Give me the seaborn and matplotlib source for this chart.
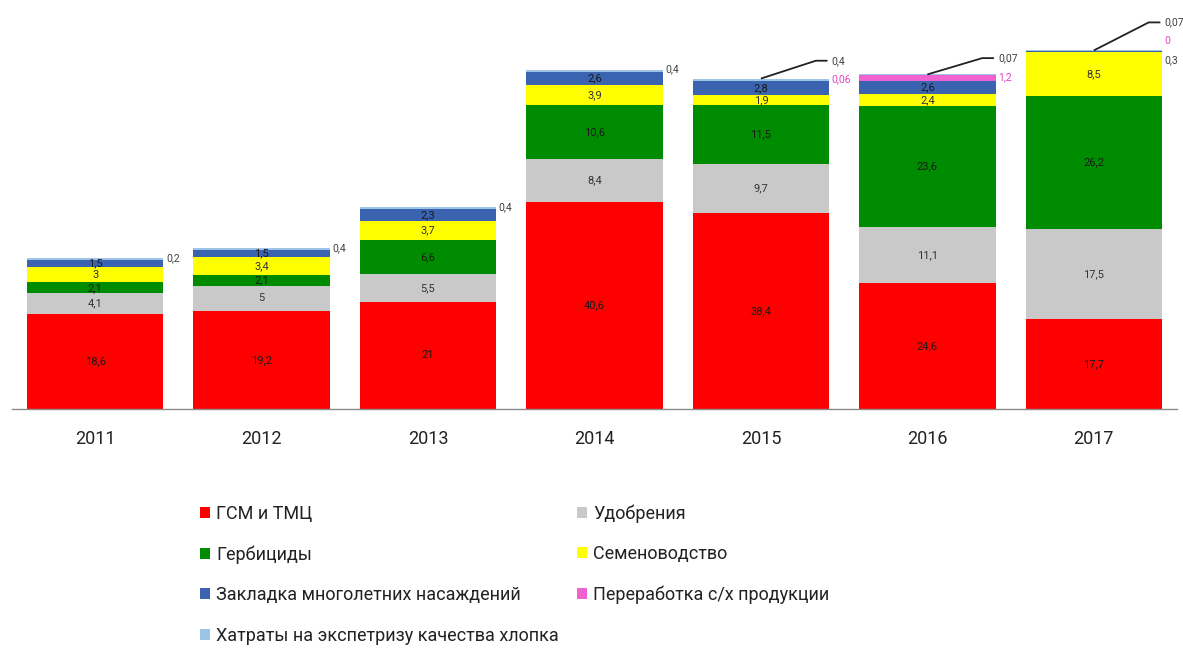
import matplotlib
matplotlib.use("Agg")
import matplotlib.pyplot as plt
from matplotlib.patches import Patch
import pandas as pd
import seaborn as sns

years = ["2011", "2012", "2013", "2014", "2015", "2016", "2017"]
series_names = [
    "ГСМ и ТМЦ",
    "Удобрения",
    "Гербициды",
    "Семеноводство",
    "Закладка многолетних насаждений",
    "Переработка с/х продукции",
    "Хатраты на экспетризу качества хлопка",
]
gsm = [18.6, 19.2, 21, 40.6, 38.4, 24.6, 17.7]
fert = [4.1, 5, 5.5, 8.4, 9.7, 11.1, 17.5]
herb = [2.1, 2.1, 6.6, 10.6, 11.5, 23.6, 26.2]
seeds = [3, 3.4, 3.7, 3.9, 1.9, 2.4, 8.5]
planting = [1.5, 1.5, 2.3, 2.6, 2.8, 2.6, 0.3]
processing = [None, None, None, None, 0.06, 1.2, 0]
expertise = [0.2, 0.4, 0.4, 0.4, 0.4, 0.07, 0.07]

colors = ["#FF0000", "#C9C9C9", "#008C00", "#FFFF00", "#3A63B0", "#F062CF", "#9DC3E6"]
inside_colors = ["#1a1a1a", "#333333", "#1a1a1a", "#333333", "#1a1a1a", "#E046C2", "#404040"]
outside_colors = ["#404040", "#404040", "#404040", "#404040", "#404040", "#E046C2", "#404040"]

sns.set_theme(style="white")
plt.rcParams["font.family"] = ["Roboto", "DejaVu Sans"]

values = [gsm, fert, herb, seeds, planting, processing, expertise]
df = pd.DataFrame({n: [v if v is not None else 0 for v in vals] for n, vals in zip(series_names, values)})
df["year"] = years
cum = df[series_names].cumsum(axis=1)
bottoms = cum - df[series_names]

fig = plt.figure(figsize=(11.83, 6.52), dpi=100)
ax = fig.add_axes([12 / 1183, 243 / 652, 1165 / 1183, 399 / 652])

# seaborn stacked bars: draw cumulative totals from the top series down
for name, col in reversed(list(zip(series_names, colors))):
    sns.barplot(x=years, y=cum[name].values, color=col, saturation=1,
                width=0.82, ax=ax, linewidth=0)

ax.set_xlim(-0.5, 6.5)
ax.set_ylim(0, 78.2)


def fmt(v):
    return f"{v:g}".replace(".", ",")


leader_off = [None, None, None, None, 3.5, 3.2, 5.5]
totals = cum[series_names[-1]].values
for i in range(len(years)):
    outside = []
    for k, name in enumerate(series_names):
        v = values[k][i]
        if v is None:
            continue
        if k < 5 and v >= 1:
            ax.text(i, bottoms[name][i] + v / 2, fmt(v), ha="center", va="center",
                    fontsize=8, color=inside_colors[k])
        else:
            outside.append(k)
    outside = outside[::-1]
    top = totals[i]
    xr = i + 0.425
    if leader_off[i] is None:
        y0 = top
    else:
        y0 = top + leader_off[i]
        ax.plot([i, i + 0.33, i + 0.40], [top, y0, y0], color="#222222", lw=1.3,
                solid_capstyle="butt", clip_on=False)
    for j, k in enumerate(outside):
        ax.text(xr, y0 - 3.7 * j, fmt(values[k][i]), ha="left", va="center",
                fontsize=7.5, color=outside_colors[k])

# axis styling
for s in ["left", "right", "top"]:
    ax.spines[s].set_visible(False)
ax.spines["bottom"].set_color("#8c8c8c")
ax.spines["bottom"].set_linewidth(1)
ax.set_yticks([])
ax.set_xticks(range(len(years)))
ax.set_xticklabels(years, fontsize=13, color="#222222")
ax.tick_params(axis="x", which="major", length=0, pad=15)
ax.set_xticks([x - 0.5 for x in range(len(years) + 1)], minor=True)
ax.tick_params(axis="x", which="minor", length=7, width=1, color="#8c8c8c", direction="out")
ax.set_xlabel("")
ax.set_ylabel("")

# legend filled row-wise like the original
order = [0, 2, 4, 6, 1, 3, 5]
handles = [Patch(facecolor=colors[k], edgecolor="none", label=series_names[k]) for k in order]
fig.legend(handles=handles, loc="upper left", bbox_to_anchor=(191 / 1183, 1 - 495 / 652),
           ncol=2, frameon=False, fontsize=13, handlelength=0.55, handleheight=0.55,
           handletextpad=0.35, labelspacing=1.25, columnspacing=1.0, borderpad=0,
           labelcolor="#222222")

fig.savefig("out.png", dpi=100)
